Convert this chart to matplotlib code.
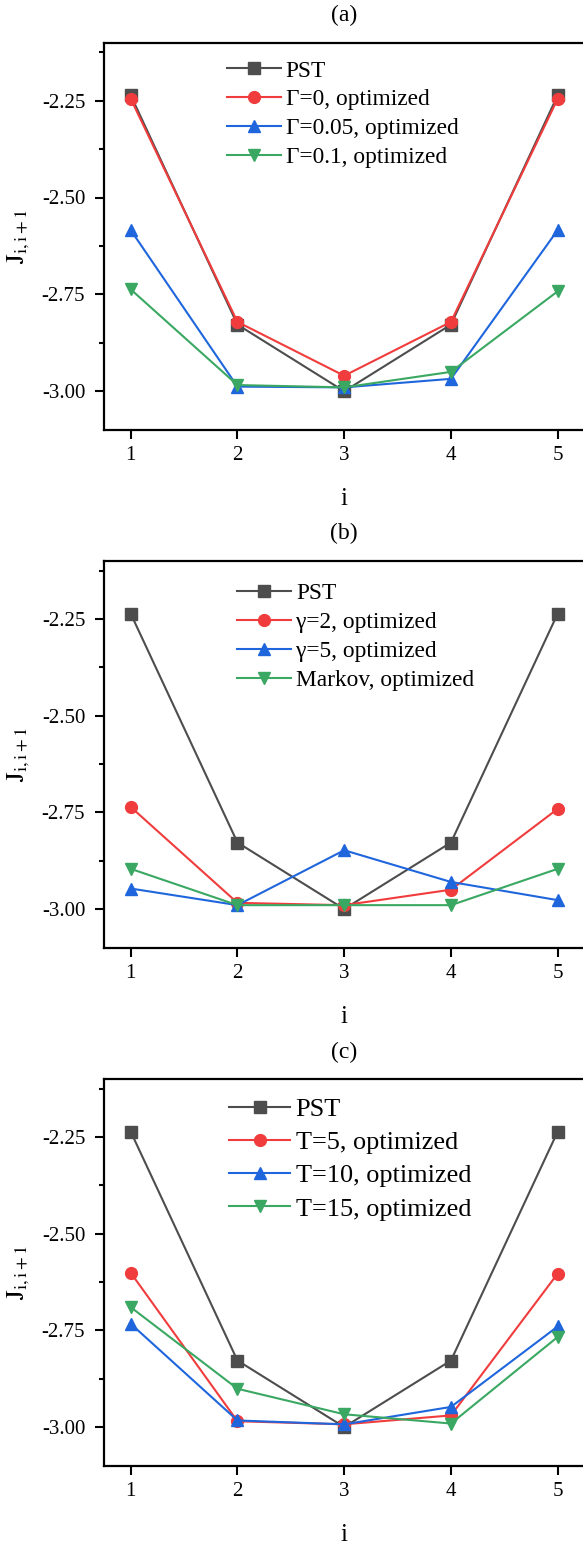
import numpy as np
import matplotlib
matplotlib.use("Agg")
import matplotlib.pyplot as plt
from matplotlib.ticker import MultipleLocator, FormatStrFormatter

plt.rcParams['font.family'] = ['Liberation Serif', 'DejaVu Serif']
plt.rcParams['mathtext.fontset'] = 'stix'
plt.rcParams['axes.unicode_minus'] = False

# data
sites = [1, 2, 3, 4, 5]
pst = [-2.236, -2.828, -3.000, -2.828, -2.236]

# (a) dephasing strength
gamma0 = [-2.245, -2.821, -2.960, -2.821, -2.245]
gamma005 = [-2.584, -2.988, -2.990, -2.968, -2.584]
gamma01 = [-2.737, -2.984, -2.990, -2.950, -2.742]
labels_a = ['PST', 'Γ=0, optimized', 'Γ=0.05, optimized', 'Γ=0.1, optimized']

# (b) non-Markovian
g2 = [-2.736, -2.984, -2.990, -2.950, -2.741]
g5 = [-2.947, -2.990, -2.848, -2.930, -2.977]
markov = [-2.896, -2.990, -2.990, -2.990, -2.896]
labels_b = ['PST', 'γ=2, optimized', 'γ=5, optimized', 'Markov, optimized']

# (c) total time
t5 = [-2.601, -2.985, -2.993, -2.970, -2.603]
t10 = [-2.733, -2.983, -2.993, -2.948, -2.740]
t15 = [-2.690, -2.901, -2.967, -2.991, -2.767]
labels_c = ['PST', 'T=5, optimized', 'T=10, optimized', 'T=15, optimized']

colors = ['#4d4d4d', '#f03c3c', '#1f66dd', '#3aa862']
markers = ['s', 'o', '^', 'v']

W, H = 583, 1543
fig = plt.figure(figsize=(W / 100, H / 100), dpi=100)

# title, series, labels, axes top/bottom (px), title y (px), legend x/y, legend font, row gap
panels = [
    ('(a)', [pst, gamma0, gamma005, gamma01], labels_a, 42.5, 430.0, 15, 0.256, 0.954, 16.8, 0.32),
    ('(b)', [pst, g2, g5, markov], labels_b, 561.0, 947.7, 533, 0.277, 0.943, 16.8, 0.32),
    ('(c)', [pst, t5, t10, t15], labels_c, 1079.0, 1465.7, 1052, 0.261, 0.951, 18.9, 0.37),
]

left_px, right_px = 104.0, 584.4

for title, series, labels, top, bot, ty, lx, ly, lfs, lsp in panels:
    ax = fig.add_axes([left_px / W, 1 - bot / H, (right_px - left_px) / W, (bot - top) / H])
    for ys, lab, c, m in zip(series, labels, colors, markers):
        ax.plot(sites, ys, color=c, marker=m, markersize=8.5, linewidth=1.5, label=lab)
    ax.set_xlim(0.75, 5.25)
    ax.set_ylim(-3.1, -2.1)
    ax.set_xticks(sites)
    ax.yaxis.set_major_locator(MultipleLocator(0.25))
    ax.yaxis.set_minor_locator(MultipleLocator(0.125))
    ax.yaxis.set_major_formatter(FormatStrFormatter('%.2f'))
    ax.tick_params(which='major', direction='out', length=6.5, width=1.5, labelsize=15)
    ax.tick_params(which='minor', direction='out', length=3.5, width=1.5)
    ax.tick_params(axis='y', pad=7)
    ax.tick_params(axis='x', pad=5)
    for s in ax.spines.values():
        s.set_linewidth(1.6)
    ax.set_xlabel('i', fontsize=18)
    ax.xaxis.set_label_coords(0.5, -0.15)
    ax.set_ylabel(r'$\mathrm{J}_{\mathrm{i,i+1}}$', fontsize=19)
    ax.yaxis.set_label_coords(-0.15, 0.5)
    ax.legend(loc='upper left', bbox_to_anchor=(lx, ly), frameon=False, fontsize=lfs,
              handlelength=2.3, handletextpad=0.22, labelspacing=lsp,
              borderpad=0, borderaxespad=0)
    fig.text(344 / W, 1 - ty / H, title, ha='center', va='center', fontsize=17)

fig.savefig('out.png', dpi=100)
